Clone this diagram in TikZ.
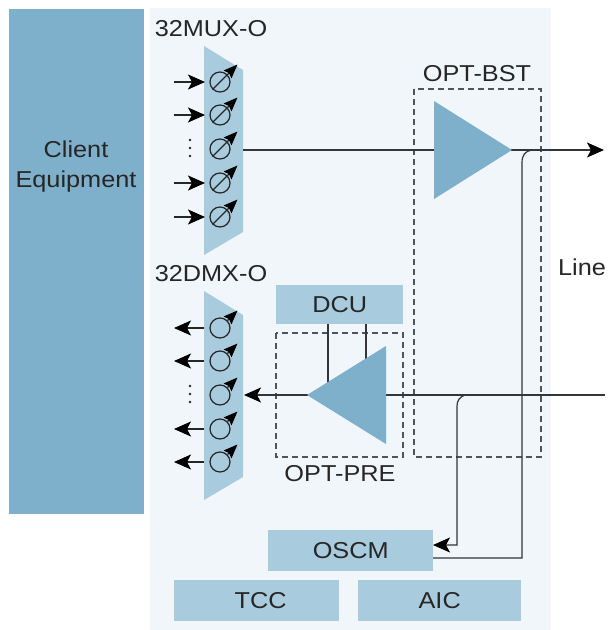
\documentclass[tikz,border=0pt]{standalone}
\usepackage{fontspec}
\setmainfont[FakeStretch=1.1]{Liberation Sans}
\usetikzlibrary{arrows.meta,calc}
\definecolor{panel}{HTML}{F1F6FA}
\definecolor{deep}{HTML}{7FB0CB}
\definecolor{pale}{HTML}{A9CBDE}
\definecolor{ink}{HTML}{333538}
\tikzset{
  x=1pt,y=-1pt,
  label text/.style={font=\fontsize{23}{28}\selectfont,text=black!85,inner sep=0pt},
  solid box/.style={fill=pale,draw=none,inner sep=0pt,label text,anchor=north west},
  dash box/.style={draw=ink!85,line width=1.2pt,dash pattern=on 6pt off 4pt},
  wire/.style={draw=ink,line width=1.2pt},
  head/.style={-{Stealth[length=17pt,width=15pt,inset=4pt,black]}},
  port/.style={circle,draw=black!85,line width=1.2pt,minimum size=20pt,inner sep=0pt},
  tune/.style={draw=black!85,line width=1.4pt,-{Stealth[length=14pt,width=11pt,inset=2pt,black]}},
}
\begin{document}
\begin{tikzpicture}
\useasboundingbox (0,0) rectangle (608,630);
\fill[panel] (150,8) rectangle (551,630);
\node[solid box,fill=deep,minimum width=135pt,minimum height=505pt] (client) at (9,9) {};
\node[label text,align=center] (clientlabel) at (76,167) {Client\\[2pt]Equipment};

% Multiplexer and demultiplexer bodies
\fill[pale] (204,46) -- (243,70) -- (243,232) -- (204,255) -- cycle;
\fill[pale] (204,291) -- (243,315) -- (243,477) -- (204,500) -- cycle;
\node[label text] (muxlabel) at (211,29) {32MUX-O};
\node[label text] (dmxlabel) at (211,274) {32DMX-O};

% Boxes
\node[solid box,minimum width=127pt,minimum height=39pt] (dcu) at (276,285) {DCU};
\node[solid box,minimum width=165pt,minimum height=41pt] (oscm) at (268,530) {OSCM};
\node[solid box,minimum width=165pt,minimum height=41pt] (tcc) at (174,580) {\hspace{8pt}TCC};
\node[solid box,minimum width=163pt,minimum height=41pt] (aic) at (358,580) {AIC};

% Dashed groups
\draw[dash box] (414,89) rectangle (541,457);
\draw[dash box] (276,333) rectangle (403,457);
\node[label text] (bstlabel) at (477,74) {OPT-BST};
\node[label text] (prelabel) at (340,474) {OPT-PRE};
\node[label text] (linelabel) at (582,267) {Line};

% Named ends of the connectors
\coordinate (muxout) at (243,150);
\coordinate (lineout) at (604,150);
\coordinate (linein) at (605,395);
\coordinate (dmxin) at (244,395);
\coordinate (oscmin) at (433,545);
\coordinate (oscmout) at (433,558);
\coordinate (dcua) at (328,324);
\coordinate (dcub) at (366,324);
\coordinate (ampa) at (328,384);
\coordinate (ampb) at (366,359);

% Connectors
\draw[wire,head] (muxout) -- (lineout);
\draw[wire,head] (linein) -- (dmxin);
\draw[wire] (dcua) -- (ampa);
\draw[wire] (dcub) -- (ampb);
\draw[wire] (532,150) .. controls (525,151) and (522,155) .. (522,163) -- (522,558) -- (oscmout);
\draw[wire,head] (465,395) .. controls (460,397) and (457,400) .. (457,406) -- (457,545) -- (oscmin);

% Amplifiers
\fill[deep] (434,101) -- (512,150) -- (434,199) -- cycle;
\fill[deep] (386,346) -- (307,395) -- (386,444) -- cycle;

% Ports
\foreach \n/\y in {a/82,b/115,c/149,d/183,e/217}{
  \node[port] (mux\n) at (220,\y) {};
  \draw[line width=1.2pt,draw=black!85] (mux\n.south west) -- (mux\n.north east);
  \draw[tune] (mux\n.north east) -- ++(10,-10);
}
\foreach \n/\y in {a/328,b/361,c/395,d/429,e/462}{
  \node[port] (dmx\n) at (220,\y) {};
  \draw[tune] (dmx\n.north east) -- ++(10,-10);
}
\foreach \n/\y in {a/82,b/115,d/183,e/217}{
  \coordinate (in\n) at (174,\y);
  \draw[draw=black!85,line width=1.2pt,head] (in\n) -- (205,\y);
}
\foreach \n/\y in {a/328,b/361,d/429,e/462}{
  \coordinate (out\n) at (174,\y);
  \draw[draw=black!85,line width=1.2pt,head] (204,\y) -- (out\n);
}
\foreach \y in {140,148,156,386,394,402}{
  \fill[black!85] (190,\y) circle (1.4pt);
}
\end{tikzpicture}
\end{document}
